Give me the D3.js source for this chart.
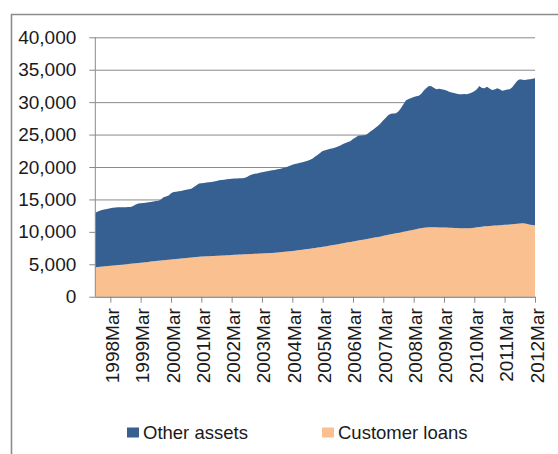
<!DOCTYPE html>
<html>
<head>
<meta charset="utf-8">
<script src="https://cdn.jsdelivr.net/npm/d3@7"></script>
<style>
  html, body { margin: 0; padding: 0; background: #fff; }
  svg { display: block; }
  text { font-family: "Liberation Sans", Arial, sans-serif; fill: #1a1a1a; }
</style>
</head>
<body>
<svg id="chart" width="558" height="454"></svg>
<script>
// ---- Data (monthly, first month = Sep 1997, last = Mar 2012) ----
const firstMonth = new Date(1997, 8, 1);

// Total assets (top of the stack = customer loans + other assets)
const totalAssets = [
  12950, 13150, 13300, 13420, 13500, 13580,
  13650, 13720, 13760, 13800, 13790, 13780, 13800, 13820, 13850, 14000, 14200, 14380,
  14420, 14450, 14500, 14550, 14600, 14680, 14750, 14800, 15000, 15350, 15450, 15600,
  15950, 16150, 16200, 16250, 16300, 16400, 16500, 16580, 16650, 16900, 17200, 17450,
  17500, 17550, 17600, 17650, 17700, 17750, 17850, 17950, 18000, 18050, 18100, 18150,
  18200, 18220, 18240, 18250, 18260, 18300, 18450, 18700, 18850, 18950, 19000, 19100,
  19200, 19280, 19350, 19420, 19480, 19550, 19640, 19700, 19800, 19900, 20050, 20200,
  20350, 20450, 20550, 20650, 20750, 20850, 20950, 21100, 21300, 21600, 21900, 22200,
  22450, 22600, 22700, 22800, 22900, 23000, 23150, 23300, 23550, 23700, 23850, 24000,
  24300, 24550, 24800, 24850, 24900, 24950, 25200, 25500, 25800, 26100, 26400, 26800,
  27200, 27600, 28000, 28200, 28250, 28300, 28600, 29100, 29700, 30300, 30500, 30650,
  30800, 30900, 31000, 31300, 31800, 32200, 32500, 32450, 32200, 32000, 32050, 31980,
  31900, 31800, 31600, 31500, 31400, 31300, 31200, 31200, 31250, 31200, 31350, 31500,
  31700, 32000, 32500, 32200, 32150, 32380, 32100, 31870, 31950, 32130, 32000, 31770,
  31850, 31950, 31980, 32290, 32800, 33300, 33520, 33450, 33410, 33500, 33550, 33600,
  33670
];

// Customer loans (bottom band)
const customerLoans = [
  4530, 4570, 4610, 4650, 4690, 4730,
  4770, 4810, 4850, 4890, 4930, 4970, 5010, 5050, 5090, 5130, 5170, 5210,
  5250, 5290, 5330, 5370, 5410, 5450, 5490, 5530, 5570, 5610, 5650, 5690,
  5730, 5770, 5810, 5850, 5890, 5930, 5970, 6010, 6050, 6090, 6130, 6170,
  6190, 6210, 6230, 6250, 6270, 6290, 6310, 6330, 6350, 6370, 6390, 6410,
  6430, 6450, 6470, 6490, 6510, 6530, 6550, 6570, 6590, 6610, 6630, 6650,
  6670, 6690, 6710, 6730, 6750, 6780, 6810, 6850, 6890, 6930, 6970, 7010,
  7050, 7100, 7150, 7200, 7250, 7300, 7350, 7400, 7460, 7520, 7580, 7640,
  7700, 7760, 7820, 7890, 7960, 8030, 8100, 8170, 8240, 8310, 8380, 8450,
  8520, 8590, 8660, 8730, 8800, 8870, 8940, 9010, 9080, 9150, 9220, 9300,
  9380, 9460, 9540, 9620, 9700, 9780, 9860, 9940, 10020, 10100, 10180, 10260,
  10340, 10420, 10500, 10560, 10620, 10680, 10700, 10720, 10710, 10700, 10690, 10680,
  10670, 10660, 10650, 10630, 10610, 10590, 10570, 10560, 10550, 10550, 10560, 10600,
  10650, 10700, 10750, 10800, 10850, 10880, 10900, 10930, 10960, 10990, 11020, 11050,
  11080, 11110, 11140, 11180, 11210, 11260, 11300, 11320, 11300, 11200, 11100, 11050,
  11010
];

const tickLabels = ["1998Mar","1999Mar","2000Mar","2001Mar","2002Mar","2003Mar","2004Mar",
  "2005Mar","2006Mar","2007Mar","2008Mar","2009Mar","2010Mar","2011Mar","2012Mar"];
const yTicks = [0, 5000, 10000, 15000, 20000, 25000, 30000, 35000, 40000];
const seriesNames = ["Other assets", "Customer loans"];
const seriesColors = ["#376092", "#FAC090"];

// ---- Build ----
const rows = totalAssets.map((t, i) => ({
  date: d3.timeMonth.offset(firstMonth, i),
  loans: customerLoans[i],
  other: t - customerLoans[i]
}));

const svg = d3.select("#chart");
const pLeft = 95.3, pRight = 535, pTop = 37.3, pBottom = 296.7;

const x = d3.scaleTime()
  .domain([rows[0].date, rows[rows.length - 1].date])
  .range([pLeft, pRight]);
const y = d3.scaleLinear().domain([0, 40000]).range([pBottom, pTop]);

// outer frame (only left and top edges visible)
svg.append("path")
  .attr("d", "M11.5,454 L11.5,14.5 L558,14.5")
  .attr("fill", "none").attr("stroke", "#8c8c8c").attr("stroke-width", 1.6);

// gridlines + y axis
const yAxis = d3.axisLeft(y).tickValues(yTicks)
  .tickSize(6).tickPadding(13)
  .tickFormat(d3.format(","));
const gy = svg.append("g").attr("transform", `translate(${pLeft},0)`).call(yAxis);
gy.select(".domain").remove();
gy.selectAll(".tick line")
  .attr("x1", -6).attr("x2", pRight - pLeft)
  .attr("stroke", "#8a8a8a").attr("stroke-width", 1);
gy.selectAll(".tick text").style("font-size", "19px").attr("fill", "#1a1a1a");

// stacked areas
const stack = d3.stack().keys(["loans", "other"]);
const layers = stack(rows);
const area = d3.area()
  .x(d => x(d.data.date))
  .y0(d => y(d[0]))
  .y1(d => y(d[1]));
svg.append("g").selectAll("path")
  .data(layers)
  .join("path")
  .attr("d", area)
  .attr("fill", (d, i) => i === 0 ? seriesColors[1] : seriesColors[0]);

// left axis line
svg.append("line")
  .attr("x1", pLeft).attr("x2", pLeft).attr("y1", pTop).attr("y2", pBottom)
  .attr("stroke", "#8a8a8a");

// x axis
const tickDates = tickLabels.map(s => new Date(+s.slice(0, 4), 2, 1));
const xAxis = d3.axisBottom(x).tickValues(tickDates).tickSize(6)
  .tickFormat((d, i) => tickLabels[i]);
const gx = svg.append("g").attr("transform", `translate(0,${pBottom})`).call(xAxis);
gx.select(".domain").attr("stroke", "#8a8a8a").attr("d", `M${pLeft},0.5H${pRight}`);
gx.selectAll(".tick line").attr("stroke", "#8a8a8a");
gx.selectAll(".tick text")
  .style("font-size", "19px").attr("fill", "#1a1a1a")
  .attr("text-anchor", "end")
  .attr("dominant-baseline", "central")
  .attr("dy", null)
  .attr("transform", "translate(1.5,11.5) rotate(-90)")
  .attr("x", 0).attr("y", 0);

// legend
const legend = svg.append("g");
const legendItems = [
  { name: seriesNames[0], color: seriesColors[0], x: 127 },
  { name: seriesNames[1], color: seriesColors[1], x: 322 }
];
legendItems.forEach(it => {
  legend.append("rect").attr("x", it.x).attr("y", 427.5)
    .attr("width", 12).attr("height", 10).attr("fill", it.color);
  legend.append("text").attr("x", it.x + 16).attr("y", 439)
    .style("font-size", "18.5px").text(it.name);
});
</script>
</body>
</html>
